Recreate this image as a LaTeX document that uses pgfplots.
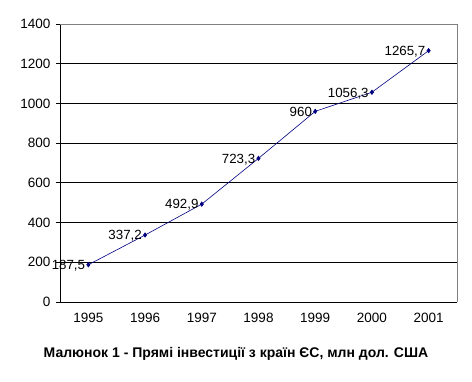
\documentclass[border=0pt]{standalone}
\usepackage{pgfplots}
\pgfplotsset{compat=1.18}
\usepackage{fontspec}
\setmainfont{Liberation Sans}
\definecolor{navy}{RGB}{0,0,128}
\begin{document}
\begin{tikzpicture}[x=1pt,y=1pt]
\path[use as bounding box] (0,0) rectangle (472,382);
\begin{axis}[
  at={(60pt,80pt)}, anchor=south west,
  scale only axis, width=397pt, height=278pt,
  xmin=-0.5, xmax=6.5, ymin=0, ymax=1400,
  ytick={0,200,...,1400},
  xtick={0,...,6},
  xticklabels={1995,1996,1997,1998,1999,2000,2001},
  x tick style={draw=none},
  extra x ticks={-0.5,0.5,1.5,2.5,3.5,4.5,5.5,6.5},
  extra x tick labels={},
  extra x tick style={tick style={draw=black, line width=0.8pt}, major tick length=5pt, grid=none},
  axis lines*=left,
  axis line style={-, line width=0.8pt},
  tick align=outside,
  major tick length=4pt,
  y tick style={line width=0.8pt, black},
  ymajorgrids, major grid style={black, line width=0.8pt},
  tick label style={font=\fontsize{13.5}{15}\selectfont},
  /pgf/number format/assume math mode=true,
  /pgf/number format/1000 sep={},
  xticklabel style={yshift=-4pt},
  yticklabel style={xshift=-2pt},
  clip=false,
  nodes near coords={\pgfplotspointmeta},
  point meta=explicit symbolic,
  every node near coord/.append style={anchor=east, font=\fontsize{13.3}{15}\selectfont, black, xshift=-2pt, yshift=-1pt, inner sep=1pt},
]
\draw[gray, line width=0.8pt] (rel axis cs:0,1) -- (rel axis cs:1,1) -- (rel axis cs:1,0);
\addplot[navy, line width=0.6pt, mark=diamond*, mark size=2.2pt, mark options={fill=navy}]
  table[meta=label] {
x y label
0 187.5 187,5
1 337.2 337,2
2 492.9 492,9
3 723.3 723,3
4 960 960
5 1056.3 1056,3
6 1265.7 1265,7
};
\end{axis}
\node[font=\bfseries\fontsize{14}{16}\selectfont] at (236,28) {Малюнок 1 - Прямі інвестиції з країн ЄС, млн дол. США};
\end{tikzpicture}
\end{document}
